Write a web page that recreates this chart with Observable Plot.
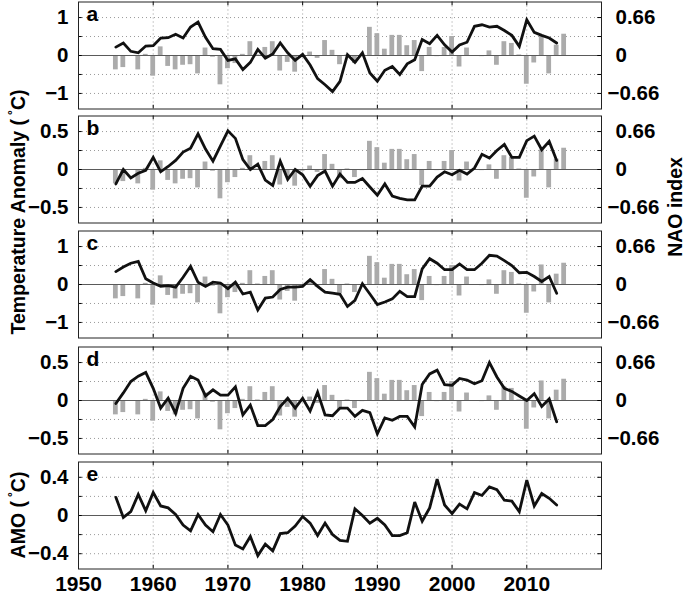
<!DOCTYPE html>
<html><head><meta charset="utf-8">
<script src="https://cdn.jsdelivr.net/npm/d3@7"></script>
<script src="https://cdn.jsdelivr.net/npm/@observablehq/plot@0.6"></script>
<style>
body{margin:0;background:#fff;}
#wrap{position:relative;width:685px;height:594px;overflow:hidden;font-family:"Liberation Sans",Arial,Helvetica,sans-serif;font-weight:bold;}
.panel{position:absolute;left:0;}
.ylab{position:absolute;font-size:19.5px;font-weight:bold;white-space:nowrap;transform:translate(-50%,-50%) rotate(-90deg);color:#000;}
.ylab sup{font-size:12px;vertical-align:8px;margin-left:4px;}
</style></head><body><div id="wrap"></div>
<script>
// Years of the NAO bars (1955-2015) and of the temperature series (1955-2014)
const naoYears = [1955,1956,1957,1958,1959,1960,1961,1962,1963,1964,1965,1966,1967,1968,1969,1970,1971,1972,1973,1974,1975,1976,1977,1978,1979,1980,1981,1982,1983,1984,1985,1986,1987,1988,1989,1990,1991,1992,1993,1994,1995,1996,1997,1998,1999,2000,2001,2002,2003,2004,2005,2006,2007,2008,2009,2010,2011,2012,2013,2014,2015];
const tempYears = [1955,1956,1957,1958,1959,1960,1961,1962,1963,1964,1965,1966,1967,1968,1969,1970,1971,1972,1973,1974,1975,1976,1977,1978,1979,1980,1981,1982,1983,1984,1985,1986,1987,1988,1989,1990,1991,1992,1993,1994,1995,1996,1997,1998,1999,2000,2001,2002,2003,2004,2005,2006,2007,2008,2009,2010,2011,2012,2013,2014];

// NAO index (right axis)
const nao = [-0.25,-0.21,-0.01,-0.25,0.02,-0.36,0.15,-0.19,-0.25,-0.17,-0.16,-0.32,0.13,-0.03,-0.51,-0.23,-0.14,0.02,0.24,0.01,0.14,0.24,-0.27,-0.12,-0.29,-0.03,0.06,-0.05,0.26,0.09,-0.16,0.01,-0.14,-0.02,0.49,0.38,0.11,0.35,0.35,0.17,0.26,-0.28,0.14,-0.02,0.14,0.33,-0.20,0.13,0.0,-0.02,0.08,-0.17,0.24,0.21,0.01,-0.50,-0.13,0.34,-0.32,0.18,0.37];

// Temperature anomaly series (left axis)
const tempA = [0.22,0.33,0.11,0.07,0.25,0.26,0.46,0.47,0.56,0.46,0.75,0.88,0.48,0.18,0.16,-0.13,-0.09,-0.37,-0.18,0.16,-0.07,0.04,0.33,0.07,-0.13,0.03,-0.25,-0.61,-0.77,-0.95,-0.68,0.02,-0.18,0.07,-0.46,-0.68,-0.39,-0.29,-0.5,-0.22,-0.11,0.42,0.31,0.53,0.28,0.09,0.28,0.35,0.77,0.81,0.75,0.77,0.66,0.53,0.24,0.94,0.61,0.53,0.46,0.33];
const tempB = [-0.19,0.0,-0.11,-0.05,-0.01,0.16,-0.03,0.04,0.12,0.23,0.28,0.47,0.27,0.11,0.31,0.51,0.41,0.13,0.0,0.07,-0.14,-0.21,0.11,-0.13,0.0,-0.07,-0.22,-0.08,-0.02,-0.22,-0.06,-0.17,-0.17,-0.12,-0.23,-0.34,-0.19,-0.35,-0.38,-0.40,-0.40,-0.22,-0.22,-0.10,-0.03,-0.07,-0.01,-0.06,0.02,0.20,0.15,0.25,0.33,0.16,0.16,0.38,0.44,0.26,0.37,0.12];
const tempC = [0.34,0.46,0.56,0.61,0.15,0.04,-0.05,-0.03,-0.07,0.19,0.48,0.06,-0.05,0.06,0.04,-0.11,0.06,-0.25,-0.2,-0.67,-0.36,-0.33,-0.13,-0.07,-0.07,-0.05,0.13,-0.05,-0.2,-0.23,-0.26,-0.58,-0.42,0.02,-0.25,-0.53,-0.46,-0.38,-0.18,-0.32,-0.32,0.41,0.68,0.56,0.39,0.39,0.54,0.39,0.39,0.56,0.77,0.75,0.63,0.5,0.31,0.32,0.21,0.08,0.21,-0.23];
const tempD = [-0.04,0.10,0.25,0.32,0.37,0.16,-0.10,0.03,-0.17,0.16,0.32,0.27,0.06,0.14,0.07,0.07,0.18,-0.19,-0.06,-0.33,-0.33,-0.25,-0.08,0.03,-0.10,0.03,-0.14,0.11,-0.19,-0.20,-0.10,-0.10,-0.21,-0.13,-0.16,-0.44,-0.23,-0.26,-0.21,-0.21,-0.35,0.21,0.35,0.40,0.21,0.20,0.29,0.27,0.22,0.26,0.50,0.31,0.16,0.12,0.06,0.0,0.09,-0.08,0.02,-0.28];
const amo = [0.19,-0.02,0.04,0.22,0.05,0.24,0.10,0.08,0.01,-0.10,-0.16,0.01,-0.10,-0.17,0.01,-0.10,-0.31,-0.35,-0.22,-0.42,-0.30,-0.37,-0.19,-0.18,-0.11,-0.01,-0.08,-0.21,-0.08,-0.20,-0.26,-0.27,0.07,0.0,-0.08,-0.03,-0.10,-0.21,-0.21,-0.18,0.14,-0.06,0.08,0.38,0.11,0.02,0.12,0.07,0.24,0.21,0.30,0.27,0.16,0.15,0.04,0.37,0.10,0.23,0.18,0.11];

// Axis ticks
const xTicks = [1950,1960,1970,1980,1990,2000,2010];
const xGrid = [1960,1970,1980,1990,2000,2010];
const naoTicks = [0.66, 0, -0.66];

const fmt = v => v < 0 ? "\u2212" + String(-v) : String(v);

const panels = [
  {letter:"a", values:tempA, domain:[-1.41,1.41], grid:[-1,-0.5,0.5,1], labels:[-1,0,1], unit:1, top:1, nao:true},
  {letter:"b", values:tempB, domain:[-0.705,0.705], grid:[-0.5,-0.25,0.25,0.5], labels:[-0.5,0,0.5], unit:0.5, top:115, nao:true},
  {letter:"c", values:tempC, domain:[-1.41,1.41], grid:[-1,-0.5,0.5,1], labels:[-1,0,1], unit:1, top:230, nao:true},
  {letter:"d", values:tempD, domain:[-0.705,0.705], grid:[-0.5,-0.25,0.25,0.5], labels:[-0.5,0,0.5], unit:0.5, top:346, nao:true},
  {letter:"e", values:amo, domain:[-0.56,0.56], grid:[-0.4,-0.2,0.2,0.4], labels:[-0.4,0,0.4], unit:0, top:461, nao:false}
];

const wrap = document.getElementById("wrap");
const FONT = "Liberation Sans, Arial, Helvetica, sans-serif";
const H = 107;

panels.forEach((p, i) => {
  const last = i === panels.length - 1;
  const lineData = tempYears.map((y, k) => ({year: y, v: p.values[k]}));
  const barData = naoYears.map((y, k) => ({year: y, v: nao[k] * p.unit / 0.66}));
  const tickLen = (p.domain[1] - p.domain[0]) * 0.035;
  const yTickPos = [...p.grid, 0];
  const marks = [
    Plot.ruleY(p.grid, {stroke: "#9a9a9a", strokeWidth: 1, strokeDasharray: "1,3"}),
    Plot.ruleX(xGrid, {stroke: "#9a9a9a", strokeWidth: 1, strokeDasharray: "1,3"}),
  ];
  if (p.nao) {
    marks.push(Plot.rectY(barData, {x1: d => d.year - 0.32, x2: d => d.year + 0.32, y: "v", fill: "#ababab"}));
  }
  marks.push(
    Plot.ruleY([0], {stroke: "#5a5a5a", strokeWidth: 1}),
    Plot.ruleY(yTickPos, {x1: 1950, x2: 1950.5, stroke: "#000"}),
    Plot.ruleY(yTickPos, {x1: 2019.5, x2: 2020, stroke: "#000"}),
    Plot.ruleX(xGrid, {y1: p.domain[0], y2: p.domain[0] + tickLen, stroke: "#000"}),
    Plot.ruleX(xGrid, {y1: p.domain[1] - tickLen, y2: p.domain[1], stroke: "#000"}),
    Plot.line(lineData, {x: "year", y: "v", stroke: "#111", strokeWidth: 2.8, strokeLinejoin: "miter", strokeMiterlimit: 3}),
    Plot.frame({stroke: "#222", strokeWidth: 1}),
    Plot.text(p.labels, {x: 1950, y: d => d, text: d => fmt(d), textAnchor: "end", dx: -10, fontSize: 20.5, fontWeight: "bold", fill: "#000"}),
    Plot.text([p.letter], {frameAnchor: "top-left", text: d => d, dx: 8, dy: 4, lineAnchor: "top", fontSize: 21, fontWeight: "bold", fill: "#000"})
  );
  if (p.nao) {
    marks.push(Plot.text(naoTicks, {x: 2020, y: d => d * p.unit / 0.66, text: d => fmt(d), textAnchor: "start", fontSize: 20.5, fontWeight: "bold", fill: "#000"}));
  }
  if (last) {
    marks.push(Plot.text(xTicks, {x: d => d, y: p.domain[0], text: d => String(d), lineAnchor: "top", dy: 7, fontSize: 21, fontWeight: "bold", fill: "#000"}));
  }
  const chart = Plot.plot({
    width: 685,
    height: H + 1 + (last ? 32 : 0),
    marginLeft: 78,
    marginRight: 84,
    marginTop: 0.5,
    marginBottom: 0.5 + (last ? 32 : 0),
    style: {fontFamily: FONT, background: "transparent", overflow: "visible"},
    x: {domain: [1950, 2020], axis: null},
    y: {domain: p.domain, axis: null},
    marks
  });
  // right-axis labels: digits start 14px right of the frame, minus sign hangs left
  chart.querySelectorAll("text").forEach(t => {
    const g = t.closest("g");
    if (!g || g.getAttribute("text-anchor") !== "start") return;
    if (t.textContent === "0.66" || t.textContent === "0") t.setAttribute("dx", "14");
    if (t.textContent === "\u22120.66") t.setAttribute("dx", "6");
  });
  chart.classList.add("panel");
  chart.style.top = (p.top - 0.5) + "px";
  wrap.appendChild(chart);
});

function addLabel(html, x, y) {
  const d = document.createElement("div");
  d.className = "ylab";
  d.innerHTML = html;
  d.style.left = x + "px";
  d.style.top = y + "px";
  wrap.appendChild(d);
}
addLabel("Temperature Anomaly (<sup>&deg;</sup>C)", 18, 212);
addLabel("AMO (<sup>&deg;</sup>C)", 18, 515);
addLabel("NAO index", 675, 207);
</script></body></html>
